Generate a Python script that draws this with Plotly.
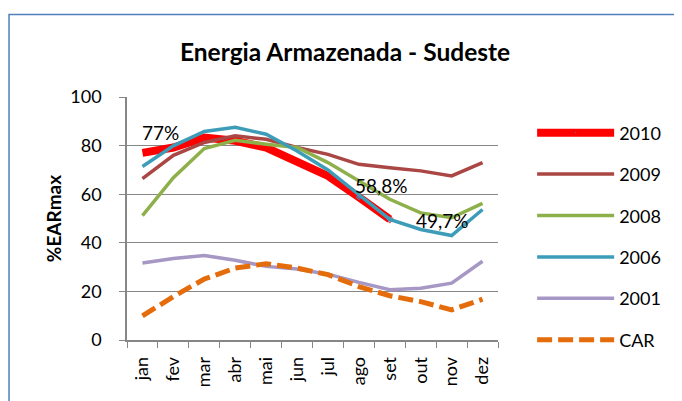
import plotly.graph_objects as go

months = ["jan", "fev", "mar", "abr", "mai", "jun", "jul", "ago", "set", "out", "nov", "dez"]
s2010 = [77.0, 79.2, 83.3, 82.0, 79.2, 73.7, 67.5, 58.8, 49.7, None, None, None]
s2009 = [66.4, 76.0, 81.3, 84.0, 82.6, 79.2, 76.4, 72.3, 70.9, 69.6, 67.5, 73.0]
s2008 = [51.2, 66.8, 78.8, 82.2, 80.6, 79.2, 73.0, 65.4, 57.9, 52.3, 50.3, 56.2]
s2006 = [71.4, 79.9, 85.8, 87.5, 84.7, 77.8, 70.0, 59.9, 49.6, 45.5, 43.0, 53.7]
s2001 = [31.7, 33.5, 34.8, 32.8, 30.3, 29.2, 27.1, 23.7, 20.7, 21.3, 23.4, 32.4]
car = [9.9, 17.9, 25.1, 29.6, 31.4, 29.6, 26.9, 22.0, 18.2, 15.8, 12.4, 16.8]
label_points = [("jan", 77.0, "77%"), ("ago", 58.8, "58,8%"), ("set", 49.7, "49,7%")]

FONT = "Lato"
W, H = 674, 393  # page body adds an 8px offset
fig = go.Figure()

fig.add_trace(go.Scatter(x=months, y=s2010, name="2010", mode="lines+markers",
                         line=dict(color="#FF0000", width=8),
                         marker=dict(symbol="diamond", color="#4F81BD",
                                     size=[0, 0, 0, 0, 0, 0, 0, 6, 6, 0, 0, 0]),
                         legendgroup="a"))
fig.add_trace(go.Scatter(x=months, y=s2009, name="2009", mode="lines",
                         line=dict(color="#AA4643", width=3.5), legendgroup="b"))
fig.add_trace(go.Scatter(x=months, y=s2008, name="2008", mode="lines",
                         line=dict(color="#8EB04B", width=3.5), legendgroup="c"))
fig.add_trace(go.Scatter(x=months, y=s2006, name="2006", mode="lines",
                         line=dict(color="#3D9DB8", width=3.5), legendgroup="d"))
fig.add_trace(go.Scatter(x=months, y=s2001, name="2001", mode="lines",
                         line=dict(color="#A697C4", width=3.5), legendgroup="e"))
fig.add_trace(go.Scatter(x=months, y=car, name="CAR", mode="lines",
                         line=dict(color="#E46C0A", width=5, dash="15px,6px"), legendgroup="f"))

offsets = {"jan": (18, 20), "ago": (23, 12), "set": (53, -1)}
for m, v, t in label_points:
    dx, dy = offsets[m]
    fig.add_annotation(x=m, y=v, text=t, showarrow=False, xshift=dx, yshift=dy,
                       font=dict(family=FONT, size=19, color="#000000"))

fig.add_shape(type="rect", xref="paper", yref="paper", x0=-0.318, y0=-1, x1=2, y1=1.34,
              line=dict(color="#4F81BD", width=1.5), fillcolor="rgba(0,0,0,0)", layer="below")

fig.update_layout(
    width=W, height=H,
    margin=dict(l=119, r=184, t=89, b=61, autoexpand=False),
    paper_bgcolor="white", plot_bgcolor="white",
    font=dict(family=FONT, size=18, color="#000000"),
    title=dict(text="<b>Energia Armazenada - Sudeste</b>", x=337 / W, xanchor="center",
               y=1 - 44 / H, yanchor="middle", font=dict(family=FONT, size=24.5, color="#000000")),
    showlegend=True,
    legend=dict(x=1.092, xanchor="left", y=0.928, yanchor="top", maxheight=320,
                font=dict(family=FONT, size=18), tracegroupgap=15, itemwidth=77,
                bgcolor="rgba(0,0,0,0)"),
    xaxis=dict(type="category", range=[-0.5, 11.5], showline=True, linecolor="#868686",
               linewidth=1.5, ticks="outside", tickson="boundaries", ticklen=6,
               tickcolor="#868686", tickangle=-90, showgrid=False,
               tickfont=dict(family=FONT, size=18), ticklabelstandoff=8, automargin=False),
    yaxis=dict(range=[0, 100], dtick=20, showline=True, linecolor="#868686", linewidth=1.5,
               ticks="outside", ticklen=6, tickcolor="#868686", showgrid=True,
               gridcolor="#878787", gridwidth=1, zeroline=False, automargin=False,
               ticklabelstandoff=14,
               title=dict(text="<b>%EARmax</b>", standoff=4, font=dict(family=FONT, size=19)),
               tickfont=dict(family=FONT, size=18)),
)

fig.write_html("out.html")
